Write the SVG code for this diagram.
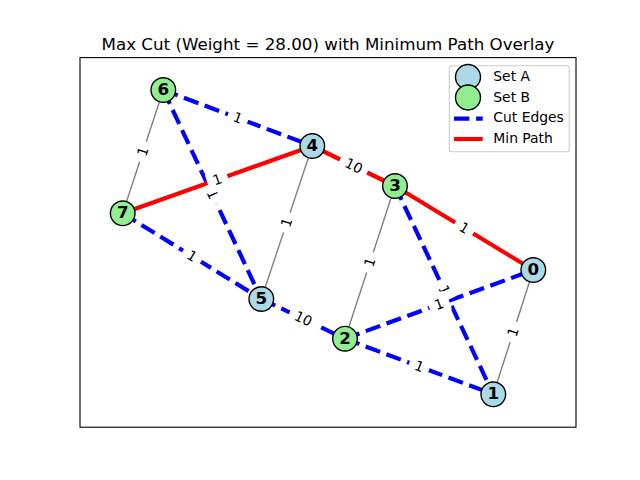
<svg xmlns="http://www.w3.org/2000/svg" width="640" height="480" viewBox="0 0 640 480">
<style>
text{font-family:"DejaVu Sans","Liberation Sans",sans-serif;fill:#000}
.title{font-size:16.7px;text-anchor:middle}
.gray{stroke:#808080;stroke-width:1.39;fill:none}
.cut{stroke:#0000ff;stroke-width:4.17;stroke-dasharray:15.4 6.7;fill:none}
.path{stroke:#ff0000;stroke-width:4.17;fill:none}
.bx{fill:#ffffff;stroke:#ffffff;stroke-width:1}
.lt{font-size:13.9px;text-anchor:middle}
.na{fill:#add8e6;stroke:#000;stroke-width:1.39}
.nb{fill:#90ee90;stroke:#000;stroke-width:1.39}
.nl{font-size:16.7px;font-weight:bold;text-anchor:middle}
.leg{font-size:13.9px}
</style>
<rect width="640" height="480" fill="#fff"/>
<text class="title" x="328" y="50">Max Cut (Weight = 28.00) with Minimum Path Overlay</text>
<rect x="80" y="57.6" width="496" height="369.6" fill="none" stroke="#000" stroke-width="1.1"/>
<g id="connectors">
<line class="gray" x1="163.3" y1="90" x2="122.7" y2="213.3"/>
<line class="gray" x1="312.3" y1="146" x2="261.3" y2="299"/>
<line class="gray" x1="395" y1="186" x2="345" y2="338.7"/>
<line class="gray" x1="533.3" y1="270" x2="493.3" y2="394.3"/>
<line class="cut" x1="163.3" y1="90" x2="312.3" y2="146"/>
<line class="cut" x1="163.3" y1="90" x2="261.3" y2="299"/>
<line class="cut" x1="122.7" y1="213.3" x2="261.3" y2="299"/>
<line class="cut" x1="395" y1="186" x2="493.3" y2="394.3"/>
<line class="cut" x1="345" y1="338.7" x2="533.3" y2="270"/>
<line class="cut" x1="261.3" y1="299" x2="345" y2="338.7"/>
<line class="cut" x1="345" y1="338.7" x2="493.3" y2="394.3"/>
<line class="path" x1="122.7" y1="213.3" x2="312.3" y2="146"/>
<line class="path" x1="312.3" y1="146" x2="395" y2="186"/>
<line class="path" x1="395" y1="186" x2="533.3" y2="270"/>
<g transform="translate(143,151.65) rotate(-71.8)"><rect class="bx" x="-10" y="-11" width="20" height="22" rx="4.2"/><text class="lt" y="4.6">1</text></g>
<g transform="translate(237.8,118) rotate(20.6)"><rect class="bx" x="-10" y="-11" width="20" height="22" rx="4.2"/><text class="lt" y="4.6">1</text></g>
<g transform="translate(212.3,194.5) rotate(64.9)"><rect class="bx" x="-10" y="-11" width="20" height="22" rx="4.2"/><text class="lt" y="4.6">1</text></g>
<g transform="translate(217.5,179.65) rotate(-19.5)"><rect class="bx" x="-10" y="-11" width="20" height="22" rx="4.2"/><text class="lt" y="4.6">1</text></g>
<g transform="translate(192,256.15) rotate(31.7)"><rect class="bx" x="-10" y="-11" width="20" height="22" rx="4.2"/><text class="lt" y="4.6">1</text></g>
<g transform="translate(286.8,222.5) rotate(-71.6)"><rect class="bx" x="-10" y="-11" width="20" height="22" rx="4.2"/><text class="lt" y="4.6">1</text></g>
<g transform="translate(353.65,166) rotate(25.8)"><rect class="bx" x="-14.5" y="-11" width="29" height="22" rx="4.2"/><text class="lt" y="4.6">10</text></g>
<g transform="translate(464.15,228) rotate(31.3)"><rect class="bx" x="-10" y="-11" width="20" height="22" rx="4.2"/><text class="lt" y="4.6">1</text></g>
<g transform="translate(370,262.35) rotate(-71.9)"><rect class="bx" x="-10" y="-11" width="20" height="22" rx="4.2"/><text class="lt" y="4.6">1</text></g>
<g transform="translate(444.15,290.15) rotate(64.7)"><rect class="bx" x="-10" y="-11" width="20" height="22" rx="4.2"/><text class="lt" y="4.6">1</text></g>
<g transform="translate(439.15,304.35) rotate(-20)"><rect class="bx" x="-10" y="-11" width="20" height="22" rx="4.2"/><text class="lt" y="4.6">1</text></g>
<g transform="translate(303.15,318.85) rotate(25.4)"><rect class="bx" x="-14.5" y="-11" width="29" height="22" rx="4.2"/><text class="lt" y="4.6">10</text></g>
<g transform="translate(419.15,366.5) rotate(20.6)"><rect class="bx" x="-10" y="-11" width="20" height="22" rx="4.2"/><text class="lt" y="4.6">1</text></g>
<g transform="translate(513.3,332.15) rotate(-72.2)"><rect class="bx" x="-10" y="-11" width="20" height="22" rx="4.2"/><text class="lt" y="4.6">1</text></g>
</g>
<g id="node0"><circle class="na" cx="533.3" cy="270" r="12.3"/><text class="nl" x="533.3" y="275">0</text></g>
<g id="node1"><circle class="na" cx="493.3" cy="394.3" r="12.3"/><text class="nl" x="493.3" y="399.3">1</text></g>
<g id="node2"><circle class="nb" cx="345" cy="338.7" r="12.3"/><text class="nl" x="345" y="343.7">2</text></g>
<g id="node3"><circle class="nb" cx="395" cy="186" r="12.3"/><text class="nl" x="395" y="191">3</text></g>
<g id="node4"><circle class="na" cx="312.3" cy="146" r="12.3"/><text class="nl" x="312.3" y="151">4</text></g>
<g id="node5"><circle class="na" cx="261.3" cy="299" r="12.3"/><text class="nl" x="261.3" y="304">5</text></g>
<g id="node6"><circle class="nb" cx="163.3" cy="90" r="12.3"/><text class="nl" x="163.3" y="95">6</text></g>
<g id="node7"><circle class="nb" cx="122.7" cy="213.3" r="12.3"/><text class="nl" x="122.7" y="218.3">7</text></g>
<g id="legend">
<rect x="449.3" y="65.7" width="120" height="86" rx="2.8" fill="#fff" fill-opacity="0.8" stroke="#cccccc" stroke-width="1.1"/>
<circle class="na" cx="468" cy="77" r="12.5"/>
<circle class="nb" cx="468" cy="97.5" r="12.5"/>
<line class="cut" x1="454" y1="118.7" x2="482.7" y2="118.7" stroke-dasharray="10.3 5.7"/>
<line class="path" x1="454" y1="139" x2="482.7" y2="139"/>
<text class="leg" x="493.3" y="81">Set A</text>
<text class="leg" x="493.3" y="101.7">Set B</text>
<text class="leg" x="493.3" y="122.4">Cut Edges</text>
<text class="leg" x="493.3" y="143.1">Min Path</text>
</g>
</svg>
